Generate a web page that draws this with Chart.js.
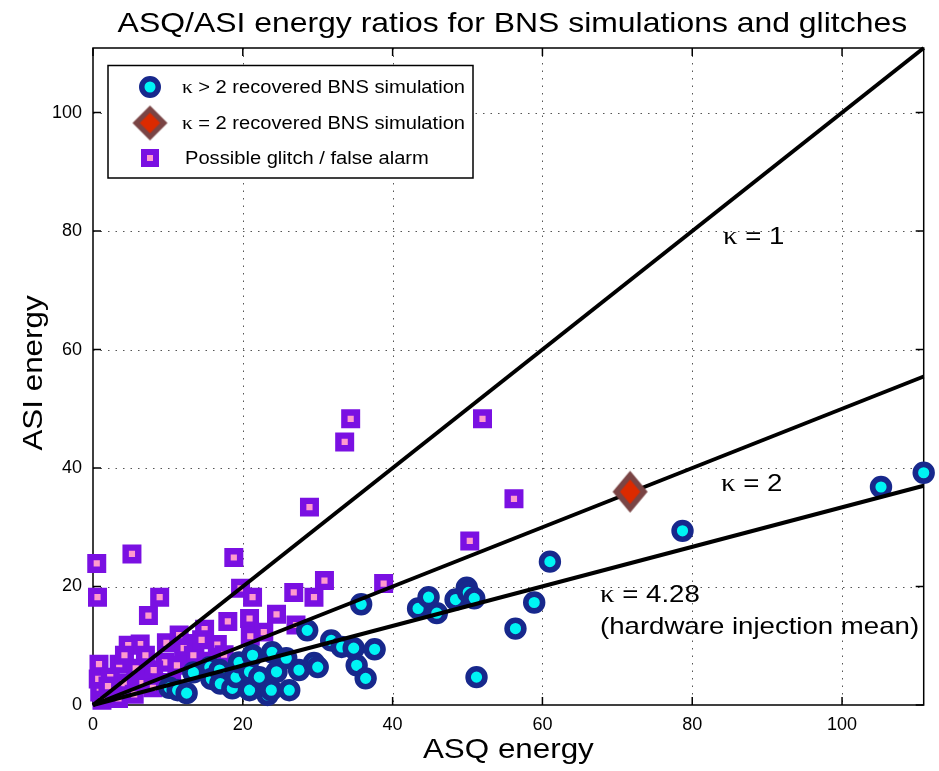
<!DOCTYPE html>
<html>
<head>
<meta charset="utf-8">
<script src="https://cdn.jsdelivr.net/npm/chart.js@4"></script>
<style>
  html, body { margin: 0; padding: 0; background: #fff; }
  #wrap { width: 939px; height: 771px; }
</style>
</head>
<body>
<div id="wrap"><canvas id="chart" width="939" height="771"></canvas></div>
<script>
// kappa > 2 recovered BNS simulations (ASQ energy, ASI energy)
const bnsX = [10.2, 11.3, 12.5, 13.4, 15.6, 15.8, 16.9, 17.0, 18.6, 19.1, 19.5, 20.9, 20.9, 21.3, 22.2,
  23.3, 23.8, 23.9, 24.5, 25.8, 26.2, 27.5, 28.6, 29.5, 30.0, 31.8, 33.2, 34.8, 35.2, 35.8,
  36.4, 37.6, 43.4, 44.8, 45.9, 48.4, 49.9, 50.1, 50.9, 51.2, 56.4, 58.9, 61.0, 78.7, 105.2, 110.9];
const bnsY = [2.9, 2.5, 2.0, 5.5, 6.4, 4.4, 5.9, 3.6, 2.8, 4.7, 7.2, 2.5, 5.6, 8.4, 4.7,
  1.7, 2.5, 8.9, 5.6, 7.9, 2.5, 5.9, 12.6, 7.1, 6.4, 10.9, 9.8, 9.6, 6.7, 17.0,
  4.5, 9.4, 16.3, 18.2, 15.5, 17.8, 19.8, 19.0, 18.0, 4.7, 12.9, 17.3, 24.2, 29.4, 36.8, 39.2];

// kappa = 2 recovered BNS simulation
const k2X = [71.7];
const k2Y = [36.0];

// possible glitches / false alarms
const glitchX = [0.5, 0.6, 5.2, 8.9, 7.4, 18.8, 19.7, 21.3, 26.8, 29.5, 30.9, 38.8, 28.9, 33.6, 34.4,
  52.0, 56.2, 50.3, 24.5, 27.1, 18.0, 20.9, 14.9, 21.0, 22.8, 16.6, 13.6, 9.8, 6.3, 4.7,
  11.5, 12.1, 13.4, 9.6, 0.8, 3.5, 5.7, 8.1, 11.2, 0.7, 2.3, 4.1, 6.6, 0.9, 2.5,
  1.2, 3.4, 5.5, 8.0, 10.5, 15.2, 17.5, 4.2, 2.0, 7.0, 14.5];
const glitchY = [23.9, 18.2, 25.5, 18.2, 15.1, 24.9, 19.7, 18.2, 19.0, 18.2, 21.0, 20.5, 33.4, 44.4, 48.3,
  48.3, 34.8, 27.7, 15.3, 13.5, 14.1, 14.6, 12.8, 11.6, 12.3, 10.2, 10.4, 10.5, 10.3, 10.1,
  11.8, 9.6, 8.4, 7.2, 6.9, 6.9, 6.2, 5.9, 6.7, 4.4, 4.7, 3.7, 3.7, 2.2, 2.0,
  0.8, 1.1, 1.8, 2.9, 3.8, 7.4, 8.5, 8.4, 3.2, 8.4, 11.0];

// reference lines from the origin to the right edge
const lineX = [0, 110.9];
const kappa1Y = [0, 110.9];
const kappa2Y = [0, 55.45];
const kappaHwY = [0, 37.0];

const xTicks = [0, 20, 40, 60, 80, 100];
const yTicks = [0, 20, 40, 60, 80, 100];
const axisMax = 110.9;

const NAVY = '#17288c', CYAN = '#00f4f4';
const PURPLE = '#7a10e2', PINK = '#ff9acd';
const BROWN = '#7a4444', RED = '#dc2a00';

function toPoints(xs, ys) {
  return xs.map((x, i) => ({ x: x, y: ys[i] }));
}

// diamond marker as a small canvas
function makeDiamond(hw, hh) {
  const c = document.createElement('canvas');
  c.width = Math.ceil(hw * 2 + 2);
  c.height = Math.ceil(hh * 2 + 2);
  const g = c.getContext('2d');
  const cx = c.width / 2, cy = c.height / 2;
  const shape = (f, color) => {
    g.fillStyle = color;
    g.beginPath();
    g.moveTo(cx, cy - hh * f);
    g.lineTo(cx + hw * f, cy);
    g.lineTo(cx, cy + hh * f);
    g.lineTo(cx - hw * f, cy);
    g.closePath();
    g.fill();
  };
  shape(1, BROWN);
  shape(0.58, RED);
  return c;
}
const plotDiamond = makeDiamond(17.5, 21);
const legendDiamond = makeDiamond(17.5, 17.5);

// text with a little horizontal stretch, like the original figure
function stretchText(ctx, str, x, y, font, sx, align) {
  ctx.save();
  ctx.font = font;
  ctx.textBaseline = 'alphabetic';
  ctx.textAlign = 'left';
  const w = ctx.measureText(str).width * sx;
  const left = align === 'center' ? x - w / 2 : x;
  ctx.translate(left, y);
  ctx.scale(sx, 1);
  ctx.fillStyle = '#000';
  ctx.fillText(str, 0, 0);
  ctx.restore();
  return w;
}

function kappaText(ctx, rest, x, y, size, sx) {
  const w = stretchText(ctx, 'κ', x, y, (size * 1.05) + 'px "Liberation Serif"', sx, 'left');
  stretchText(ctx, rest, x + w, y, size + 'px "Liberation Sans"', sx, 'left');
}

// grid, box and inward ticks (under the markers)
const framePlugin = {
  id: 'frame',
  beforeDatasetsDraw(chart) {
    const { ctx, chartArea: a, scales: { x, y } } = chart;
    ctx.save();
    ctx.strokeStyle = '#555';
    ctx.lineWidth = 1;
    ctx.setLineDash([1.5, 6]);
    xTicks.forEach(v => {
      if (v === 0) return;
      const px = Math.round(x.getPixelForValue(v)) + 0.5;
      ctx.beginPath(); ctx.moveTo(px, a.top); ctx.lineTo(px, a.bottom); ctx.stroke();
    });
    yTicks.forEach(v => {
      if (v === 0) return;
      const py = Math.round(y.getPixelForValue(v)) + 0.5;
      ctx.beginPath(); ctx.moveTo(a.left, py); ctx.lineTo(a.right, py); ctx.stroke();
    });
    ctx.setLineDash([]);

    ctx.strokeStyle = '#000';
    ctx.lineWidth = 1.5;
    ctx.strokeRect(a.left, a.top, a.right - a.left, a.bottom - a.top);
    const tl = 8;
    xTicks.forEach(v => {
      const px = x.getPixelForValue(v);
      ctx.beginPath();
      ctx.moveTo(px, a.bottom); ctx.lineTo(px, a.bottom - tl);
      ctx.moveTo(px, a.top); ctx.lineTo(px, a.top + tl);
      ctx.stroke();
    });
    yTicks.forEach(v => {
      const py = y.getPixelForValue(v);
      ctx.beginPath();
      ctx.moveTo(a.left, py); ctx.lineTo(a.left + tl, py);
      ctx.moveTo(a.right, py); ctx.lineTo(a.right - tl, py);
      ctx.stroke();
    });
    ctx.restore();
  }
};

// titles, labels on the lines and the legend box
const textPlugin = {
  id: 'texts',
  afterDraw(chart) {
    const { ctx, chartArea: a } = chart;
    const cx = (a.left + a.right) / 2;

    stretchText(ctx, 'ASQ/ASI energy ratios for BNS simulations and glitches', cx + 4, 32,
      '28px "Liberation Sans"', 1.14, 'center');
    stretchText(ctx, 'ASQ energy', cx, 758, '28px "Liberation Sans"', 1.12, 'center');
    ctx.save();
    ctx.translate(42, 373);
    ctx.rotate(-Math.PI / 2);
    stretchText(ctx, 'ASI energy', 0, 0, '28px "Liberation Sans"', 1.12, 'center');
    ctx.restore();

    kappaText(ctx, ' = 1', 723, 244, 24, 1.15);
    kappaText(ctx, ' = 2', 721, 491, 24, 1.15);
    kappaText(ctx, ' = 4.28', 600, 602, 24, 1.15);
    stretchText(ctx, '(hardware injection mean)', 600, 634, '24px "Liberation Sans"', 1.15, 'left');

    // legend
    ctx.save();
    ctx.fillStyle = '#fff';
    ctx.fillRect(108, 65.5, 365, 112.5);
    ctx.strokeStyle = '#000';
    ctx.lineWidth = 1.5;
    ctx.strokeRect(108, 65.5, 365, 112.5);

    ctx.beginPath();
    ctx.arc(150, 87, 8.25, 0, Math.PI * 2);
    ctx.fillStyle = CYAN;
    ctx.fill();
    ctx.lineWidth = 5.5;
    ctx.strokeStyle = NAVY;
    ctx.stroke();

    ctx.drawImage(legendDiamond, 150 - legendDiamond.width / 2, 123 - legendDiamond.height / 2);

    ctx.fillStyle = PURPLE;
    ctx.fillRect(141, 149, 18, 18);
    ctx.fillStyle = PINK;
    ctx.fillRect(147, 155, 6, 6);
    ctx.restore();

    kappaText(ctx, ' > 2 recovered BNS simulation', 182, 93, 17.5, 1.15);
    kappaText(ctx, ' = 2 recovered BNS simulation', 182, 129, 17.5, 1.15);
    stretchText(ctx, 'Possible glitch / false alarm', 185, 164, '17.5px "Liberation Sans"', 1.15, 'left');
  }
};

function refLine(ys) {
  return {
    type: 'line',
    data: toPoints(lineX, ys),
    showLine: true,
    borderColor: '#000',
    borderWidth: 4,
    pointRadius: 0,
    fill: false,
    order: 1,
    clip: false
  };
}

const tickFont = { family: 'Liberation Sans', size: 18 };

new Chart(document.getElementById('chart').getContext('2d'), {
  type: 'scatter',
  data: {
    datasets: [
      {
        label: 'κ = 2 recovered BNS simulation',
        data: toPoints(k2X, k2Y),
        pointStyle: plotDiamond,
        order: 0,
        clip: false
      },
      refLine(kappa1Y),
      refLine(kappa2Y),
      refLine(kappaHwY),
      {
        label: 'κ > 2 recovered BNS simulation',
        data: toPoints(bnsX, bnsY),
        pointStyle: 'circle',
        pointRadius: 8.4,
        borderWidth: 5.6,
        borderColor: NAVY,
        backgroundColor: CYAN,
        order: 2,
        clip: false
      },
      {
        label: 'Possible glitch / false alarm',
        data: toPoints(glitchX, glitchY),
        pointStyle: 'rect',
        pointRadius: 8.9,
        borderWidth: 6.4,
        borderColor: PURPLE,
        backgroundColor: PINK,
        order: 3,
        clip: false
      }
    ]
  },
  options: {
    responsive: false,
    animation: false,
    devicePixelRatio: 1,
    layout: { padding: { top: 48, right: 12, left: 0, bottom: 0 } },
    plugins: {
      legend: { display: false },
      tooltip: { enabled: false }
    },
    scales: {
      x: {
        type: 'linear',
        min: 0,
        max: axisMax,
        grid: { display: false, drawTicks: false },
        border: { display: false },
        afterBuildTicks: s => { s.ticks = xTicks.map(v => ({ value: v })); },
        afterFit: s => { s.height = 66; },
        ticks: { color: '#000', font: tickFont, padding: 9, maxRotation: 0, autoSkip: false }
      },
      y: {
        type: 'linear',
        min: 0,
        max: axisMax,
        grid: { display: false, drawTicks: false },
        border: { display: false },
        afterBuildTicks: s => { s.ticks = yTicks.map(v => ({ value: v })); },
        afterFit: s => { s.width = 93; },
        ticks: { color: '#000', font: tickFont, padding: 11, autoSkip: false }
      }
    }
  },
  plugins: [framePlugin, textPlugin]
});
</script>
</body>
</html>
